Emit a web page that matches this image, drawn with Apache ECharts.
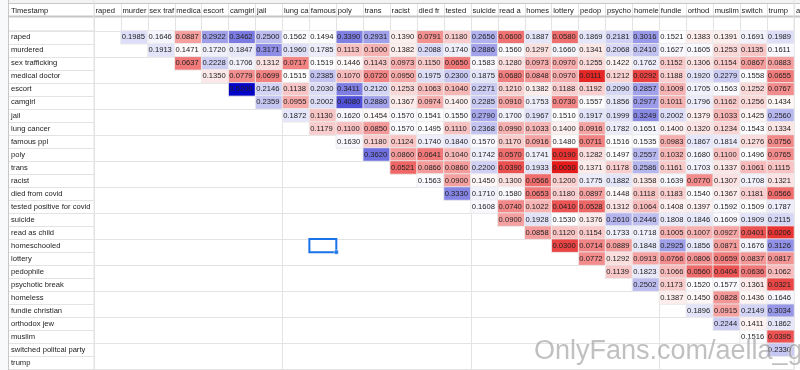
<!DOCTYPE html>
<html><head><meta charset="utf-8">
<script src="https://cdn.jsdelivr.net/npm/echarts@6/dist/echarts.min.js"></script>
<style>html,body{margin:0;padding:0;background:#fff}#c{width:800px;height:370px}</style>
</head><body><div id="c"></div>
<script>
// Row / column labels (same order on both axes)
const categories = ['raped','murdered','sex trafficking','medical doctor','escort','camgirl','jail','lung cancer','famous ppl','poly','trans','racist','died from covid','tested positive for covid','suicide','read as child','homeschooled','lottery','pedophile','psychotic break','homeless','fundie christian','orthodox jew','muslim','switched politcal party','trump'];
const cornerHeader = 'Timestamp';

// Upper-triangle values: each row lists the values for the columns after it
const v_raped = [0.19857,0.16461,0.08875,0.2922,0.34623,0.2500,0.15622,0.14949,0.3390,0.2931,0.1390,0.0791,0.118,0.2656,0.060,0.1887,0.058,0.18699,0.2181,0.3016,0.15219,0.1383,0.1391,0.16917,0.1989];
const v_murdered = [0.1913,0.14712,0.172,0.1847,0.3171,0.19602,0.1785,0.1113,0.100,0.1382,0.2088,0.174,0.2886,0.156,0.1297,0.166,0.13419,0.2068,0.2410,0.1627,0.1605,0.1253,0.11358,0.1611];
const v_sexTrafficking = [0.06371,0.2228,0.1706,0.1312,0.0717,0.1519,0.1446,0.1143,0.0973,0.1150,0.065,0.1583,0.128,0.0973,0.097,0.12552,0.1422,0.1762,0.11528,0.1306,0.1154,0.08671,0.0883];
const v_medicalDoctor = [0.135,0.0779,0.0699,0.15158,0.2385,0.1070,0.072,0.0950,0.1975,0.230,0.1875,0.068,0.0848,0.097,0.0111,0.1212,0.0292,0.1188,0.1920,0.2279,0.15580,0.0655];
const v_escort = [0.52,0.2146,0.11382,0.2030,0.3411,0.212,0.1253,0.1063,0.104,0.2271,0.121,0.1382,0.1188,0.11928,0.2090,0.2857,0.1009,0.1705,0.1563,0.12522,0.0767];
const v_camgirl = [0.2359,0.0955,0.2002,0.408,0.288,0.1367,0.0974,0.140,0.2285,0.091,0.1753,0.073,0.15571,0.1856,0.2977,0.10118,0.1796,0.1162,0.12564,0.1434];
const v_jail = [0.18729,0.1130,0.162,0.1454,0.1570,0.1541,0.155,0.279,0.170,0.1967,0.151,0.19173,0.1999,0.3249,0.2002,0.1379,0.1033,0.14251,0.2560];
const v_lungCancer = [0.1179,0.1100,0.085,0.157,0.1495,0.111,0.2368,0.099,0.1033,0.140,0.0916,0.1782,0.1651,0.1400,0.1320,0.1234,0.15438,0.1334];
const v_famousPpl = [0.163,0.118,0.1124,0.1740,0.184,0.157,0.117,0.0916,0.148,0.0711,0.1516,0.1535,0.0983,0.1867,0.1814,0.12765,0.0756];
const v_poly = [0.362,0.086,0.0641,0.104,0.1742,0.057,0.1741,0.019,0.1282,0.1497,0.2557,0.1032,0.168,0.1100,0.14962,0.0765];
const v_trans = [0.0521,0.0866,0.086,0.2200,0.039,0.1933,0.005,0.13712,0.1178,0.2586,0.1161,0.1703,0.1337,0.10616,0.1115];
const v_racist = [0.1563,0.090,0.145,0.130,0.0566,0.120,0.1775,0.1882,0.1358,0.1639,0.077,0.1307,0.17084,0.1321];
const v_diedFromCovid = [0.333,0.171,0.158,0.0653,0.118,0.0897,0.1448,0.1118,0.1183,0.1540,0.1367,0.11815,0.0566];
const v_testedPositive = [0.1608,0.074,0.1022,0.041,0.0528,0.1312,0.1064,0.1408,0.1397,0.1592,0.15096,0.1787];
const v_suicide = [0.090,0.1928,0.153,0.1376,0.2610,0.2446,0.1808,0.1846,0.1609,0.19093,0.2115];
const v_readAsChild = [0.0858,0.112,0.1154,0.1733,0.1718,0.1005,0.1007,0.0927,0.0401,0.0206];
const v_homeschooled = [0.030,0.0714,0.0889,0.1848,0.2925,0.1856,0.0871,0.16763,0.3126];
const v_lottery = [0.07725,0.1292,0.0913,0.0766,0.0806,0.0659,0.08374,0.0817];
const v_pedophile = [0.11395,0.1823,0.1066,0.056,0.0404,0.0636,0.1062];
const v_psychoticBreak = [0.2502,0.1173,0.1520,0.1577,0.13615,0.0321];
const v_homeless = [0.13879,0.145,0.0828,0.14365,0.1646];
const v_fundieChristian = [0.1896,0.0915,0.21496,0.3034];
const v_orthodoxJew = [0.2244,0.14118,0.1862];
const v_muslim = [0.15168,0.0395];
const v_switchedParty = [0.2330];
const v_trump = [];

const rowArrays = [v_raped,v_murdered,v_sexTrafficking,v_medicalDoctor,v_escort,v_camgirl,v_jail,v_lungCancer,v_famousPpl,v_poly,v_trans,v_racist,v_diedFromCovid,v_testedPositive,v_suicide,v_readAsChild,v_homeschooled,v_lottery,v_pedophile,v_psychoticBreak,v_homeless,v_fundieChristian,v_orthodoxJew,v_muslim,v_switchedParty,v_trump];

const cells = [];
rowArrays.forEach((vals, r) => vals.forEach((v, k) => cells.push([r + 1 + k, r, v])));

// Colour scale: red (low) -> white (0.15) -> blue (high)
const cMin = 0.005, cMid = 0.15, cMax = 0.52;
const RED = [230, 28, 28], WHITE = [255, 255, 255], BLUE = [5, 5, 200];
function mix(a, b, t) { return 'rgb(' + a.map((x, i) => Math.round(x + (b[i] - x) * t)).join(',') + ')'; }
const stops = [];
const N = 120;
for (let i = 0; i <= N; i++) {
  const v = cMin + (cMax - cMin) * i / N;
  stops.push(v <= cMid ? mix(RED, WHITE, (v - cMin) / (cMid - cMin)) : mix(WHITE, BLUE, (v - cMid) / (cMax - cMid)));
}

const FONT = "'Liberation Sans', Arial, sans-serif";
const FONTSZ = 7.6;
const measureCtx = document.createElement('canvas').getContext('2d');
measureCtx.font = FONTSZ + "px 'Liberation Sans', Arial, sans-serif";
// clip text to a cell width like a spreadsheet does
function clip(text, w) { let t = String(text); while (t.length && measureCtx.measureText(t).width > w) t = t.slice(0, -1); return t; }

const GRIDC = '#e3e3e3';
const TOP = 30.8, H = 338.5, L = 94, R = 6;

const chart = echarts.init(document.getElementById('c'), null, { renderer: 'canvas' });
chart.setOption({
  animation: false,
  backgroundColor: '#fff',
  textStyle: { fontFamily: FONT },
  grid: [
    { left: L, right: R, top: TOP, height: H },
    { left: L, right: R, top: 3, height: TOP - 3 },
    { left: 8, width: L - 8, top: TOP, height: H }
  ],
  xAxis: [
    { type: 'category', data: categories, gridIndex: 0, axisLabel: { show: false }, axisTick: { show: false }, axisLine: { show: false },
      splitLine: { show: true, lineStyle: { color: GRIDC, width: 1 } } },
    { type: 'category', data: categories, gridIndex: 1, position: 'top', axisTick: { show: false }, axisLine: { show: false },
      splitLine: { show: true, lineStyle: { color: GRIDC, width: 1 } },
      axisLabel: { show: true, inside: true, interval: 0, margin: 7.5, verticalAlign: 'middle', align: 'left', padding: [0, 0, 0, -12],
        formatter: n => clip(n, 25), fontSize: FONTSZ, color: '#222', fontFamily: FONT } },
    { type: 'value', gridIndex: 2, show: false }
  ],
  yAxis: [
    { type: 'category', data: categories, inverse: true, gridIndex: 0, axisLabel: { show: false }, axisTick: { show: false }, axisLine: { show: false },
      splitLine: { show: true, lineStyle: { color: GRIDC, width: 1 } } },
    { type: 'value', gridIndex: 1, show: false },
    { type: 'category', data: categories, inverse: true, gridIndex: 2, axisTick: { show: false }, axisLine: { show: false },
      splitLine: { show: true, lineStyle: { color: GRIDC, width: 1 } },
      axisLabel: { show: true, inside: true, interval: 0, margin: 3, align: 'left', verticalAlign: 'middle', fontSize: FONTSZ, color: '#222', fontFamily: FONT } }
  ],
  visualMap: { show: false, type: 'continuous', min: cMin, max: cMax, dimension: 2, seriesIndex: 0, inRange: { color: stops } },
  series: [{
    type: 'heatmap', xAxisIndex: 0, yAxisIndex: 0, data: cells,
    itemStyle: { borderColor: 'rgba(235,235,235,0.9)', borderWidth: 1 },
    emphasis: { disabled: true },
    label: { show: true, position: 'insideLeft', distance: 1.5, fontSize: FONTSZ, color: '#222', fontFamily: FONT,
      formatter: p => clip(p.value[2].toFixed(5), 25.5) }
  }]
});

// spreadsheet chrome + selection box
const c1 = chart.convertToPixel({ xAxisIndex: 0, yAxisIndex: 0 }, ['famous ppl', 'homeschooled']);
const c2 = chart.convertToPixel({ xAxisIndex: 0, yAxisIndex: 0 }, ['poly', 'lottery']);
const bw = c2[0] - c1[0], bh = c2[1] - c1[1];
chart.setOption({
  graphic: [
    { type: 'rect', shape: { x: 0, y: 0, width: 800, height: 3 }, style: { fill: '#f1f3f4' }, silent: true },
    { type: 'line', shape: { x1: 0, y1: 3.5, x2: 800, y2: 3.5 }, style: { stroke: '#c7c7c7', lineWidth: 1 } },
    { type: 'rect', shape: { x: 0, y: 15.5, width: 800, height: 2 }, style: { fill: '#c4c7c5' } },
    { type: 'line', shape: { x1: 8, y1: TOP, x2: L, y2: TOP }, style: { stroke: GRIDC, lineWidth: 1 } },
    { type: 'line', shape: { x1: L, y1: 0, x2: L, y2: 370 }, style: { stroke: GRIDC, lineWidth: 1 } },
    { type: 'line', shape: { x1: 800 - R, y1: 0, x2: 800 - R, y2: 370 }, style: { stroke: GRIDC, lineWidth: 1 } },
    { type: 'rect', shape: { x: 0, y: 0, width: 8, height: 370 }, style: { fill: '#f8f9fa' } },
    { type: 'line', shape: { x1: 8.5, y1: 0, x2: 8.5, y2: 370 }, style: { stroke: '#c7c7c7', lineWidth: 1 } },
    { type: 'text', x: 11, y: 10.5, style: { text: cornerHeader, fontSize: FONTSZ, fill: '#222', fontFamily: FONT, verticalAlign: 'middle' } },
    { type: 'text', x: 796, y: 10.5, style: { text: 'a', fontSize: FONTSZ, fill: '#222', fontFamily: FONT, verticalAlign: 'middle' } },
    { type: 'rect', shape: { x: c1[0] - bw / 2, y: c1[1] - bh / 2, width: bw, height: bh }, style: { fill: 'none', stroke: '#1a73e8', lineWidth: 2 } },
    { type: 'rect', shape: { x: c1[0] + bw / 2 - 2, y: c1[1] + bh / 2 - 2, width: 4, height: 4 }, style: { fill: '#1a73e8', stroke: '#fff', lineWidth: 0.5 } },
    { type: 'text', x: 534, y: 352, z: 100, style: { text: 'OnlyFans.com/aella_girl', fontSize: 27, fontFamily: FONT, fill: 'rgba(140,140,140,0.55)', stroke: 'rgba(255,255,255,0.5)', lineWidth: 1, verticalAlign: 'middle' } }
  ]
});
</script></body></html>
